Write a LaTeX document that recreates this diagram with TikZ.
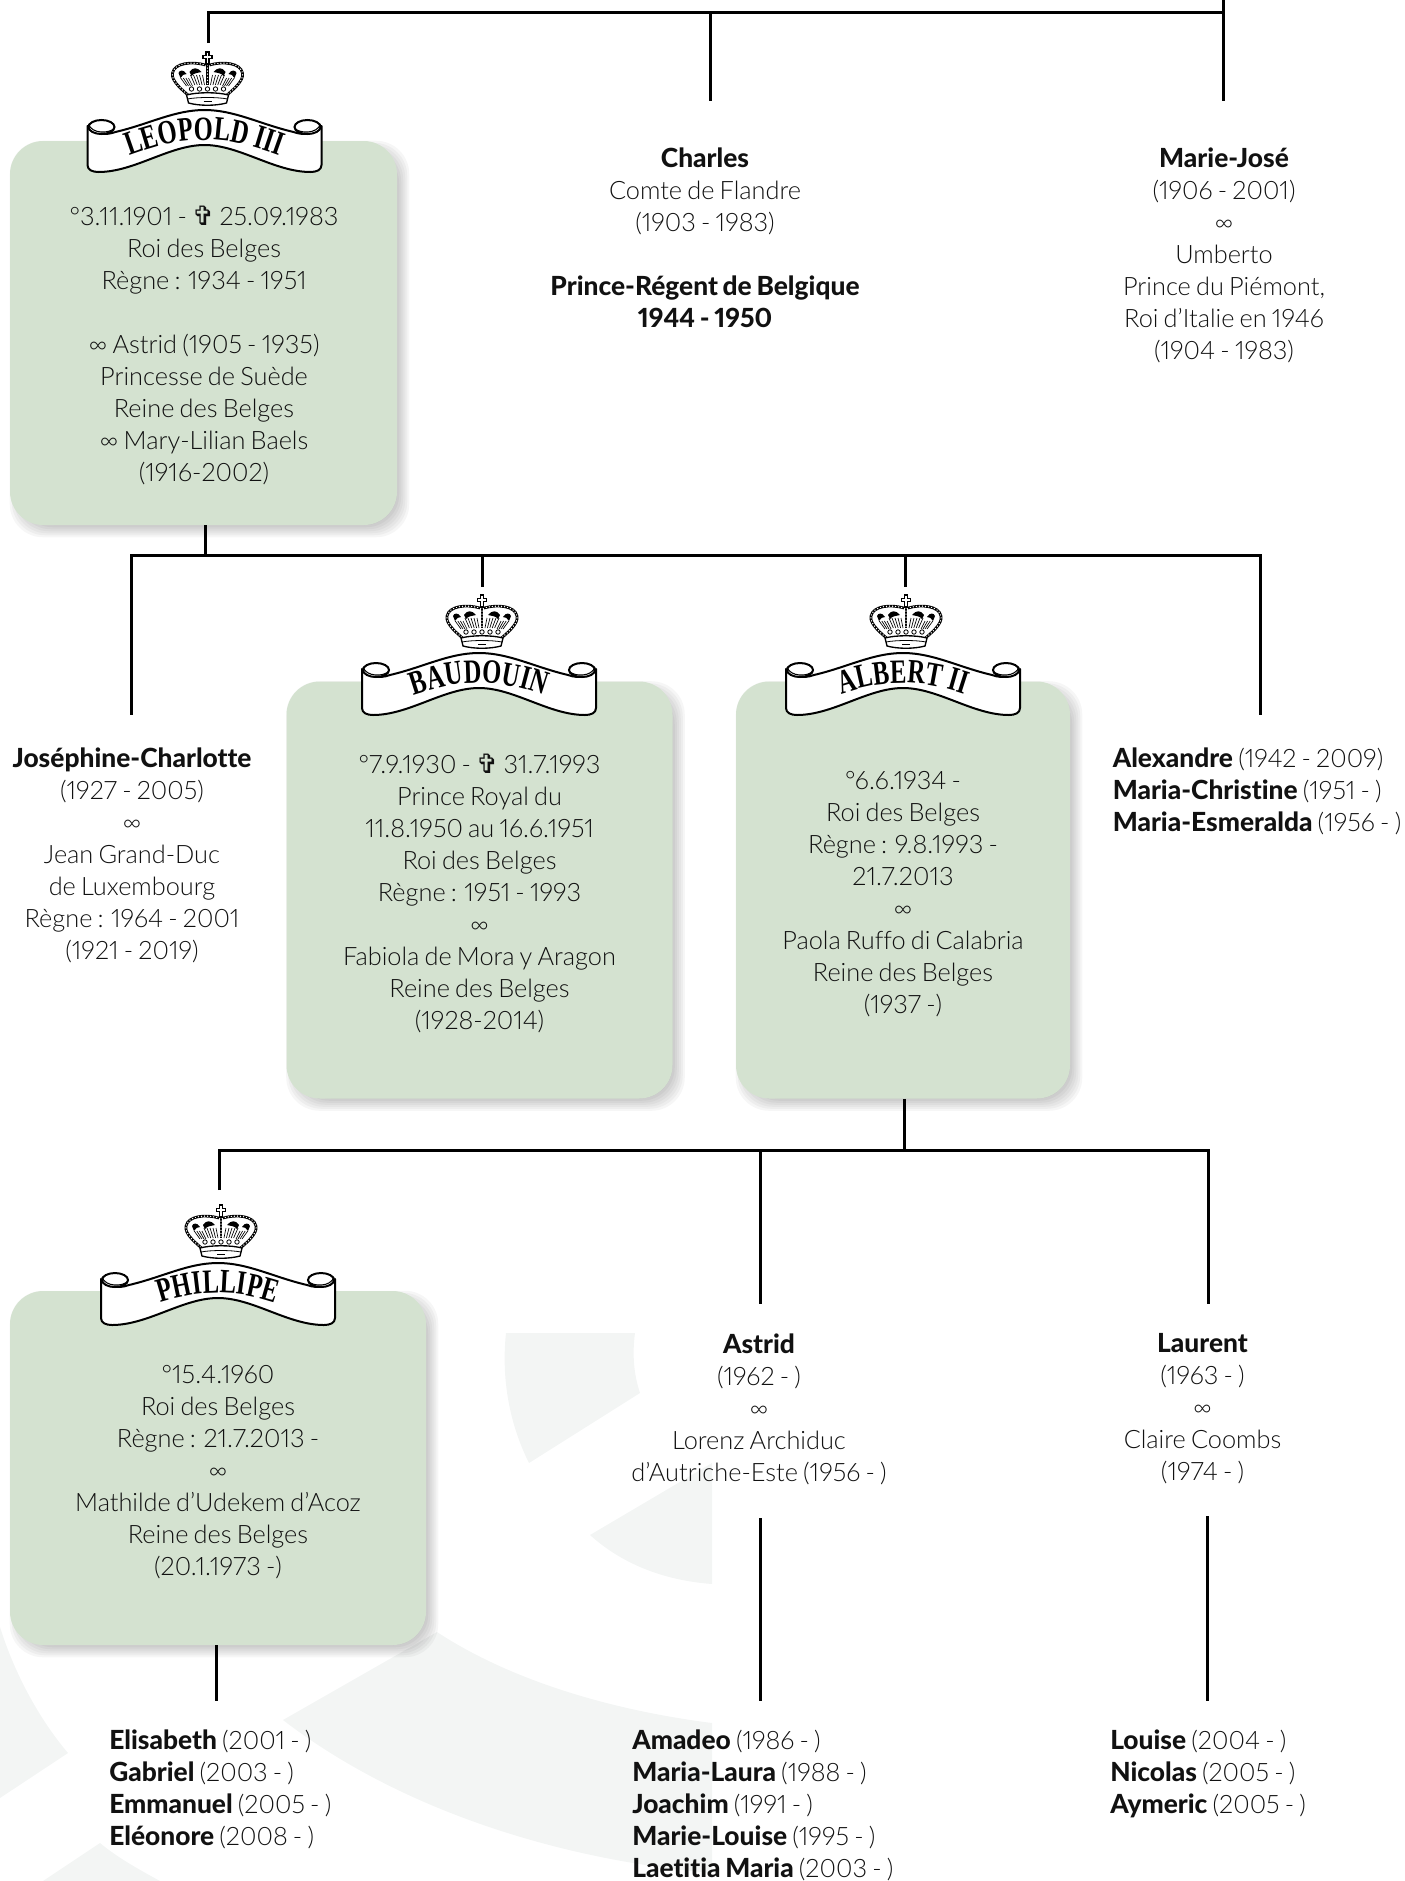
\documentclass[tikz,border=0pt]{standalone}
\usepackage{fontspec}
\setmainfont{Lato}[UprightFont=* Light,BoldFont=* Heavy,BoldFeatures={Scale=1.04},Numbers=Proportional,WordSpace=.75,Ligatures=NoCommon]
\newfontfamily\bannerfont[FakeStretch=.72]{Liberation Serif}
\newfontfamily\symbolfont{DejaVu Sans}
\usepackage{tikz}
\usetikzlibrary{positioning, calc, decorations.text, backgrounds}
\newcommand{\deathmark}{{\symbolfont\fontsize{20}{24}\selectfont ✞}}
\definecolor{boxgreen}{HTML}{D4E2D0}
\definecolor{shade}{HTML}{F3F5F4}
\definecolor{inktext}{HTML}{111111}
\tikzset{
	x=.75pt,
	y=-.75pt,
	link/.style={
		line width=2.25pt
	},
	watermark/.style={
		fill=shade
	},
	kingbox/.style 2 args={
		fill=boxgreen,
		rounded corners=25pt,
		minimum width=#1*.75pt,
		minimum height=#2*.75pt
	},
	boxshadow/.style={
		fill=black,
		fill opacity=.035,
		rounded corners=25pt
	},
	entry/.style={
		anchor=north,
		align=center,
		inner sep=0pt,
		text=inktext,
		font=\fontsize{19}{24}\selectfont,
		execute at begin node=\strut
	},
	siblings/.style={
		entry,
		anchor=north west,
		align=left
	},
	pics/crown/.style={
		code={
			% pearls over a black line
			\foreach \s in {-1,1} {
				\draw[line width=2pt] (\s*16,19) .. controls (\s*24,12) and (\s*37,2) .. (\s*35,-6) .. controls (\s*33,-16) and (\s*16,-18) .. (\s*2,-14);
				\draw[white, line width=1.1pt, line cap=round, dash pattern=on 0pt off 2.3pt] (\s*16,19) .. controls (\s*24,12) and (\s*37,2) .. (\s*35,-6) .. controls (\s*33,-16) and (\s*16,-18) .. (\s*2,-14);
				\fill (\s*21,-5) .. controls (\s*24,-10) and (\s*28,-9) .. (\s*29,-6) -- (\s*27,-1) .. controls (\s*26,-4) and (\s*23,-5) .. (\s*21,-5) -- cycle;
				\fill (\s*6,-7) .. controls (\s*10,-12) and (\s*15,-12) .. (\s*18,-7) -- (\s*16,-3) .. controls (\s*14,-6) and (\s*10,-6) .. (\s*6,-7) -- cycle;
				\foreach \t in {0,...,4} {
					\draw[line width=.5pt] (\s*5+\s*\t*3,-4) -- (\s*3+\s*\t*2.4,6);
				}
				\foreach \t in {0,1,2,3} {
					\draw[line width=.5pt] (\s*19+\s*\t*2.6,-1) -- (\s*15+\s*\t*2,7);
				}
			}
			\draw[line width=2pt] (0,-14) -- (0,6);
			\draw[white, line width=1.1pt, line cap=round, dash pattern=on 0pt off 2.3pt] (0,-14) -- (0,6);
			\draw[line width=.8pt, fill=white] (-1.5,-27) -- (1.5,-27) -- (1.5,-23.5) -- (4.5,-23.5) -- (4.5,-20.5) -- (1.5,-20.5) -- (1.5,-15) -- (-1.5,-15) -- (-1.5,-20.5) -- (-4.5,-20.5) -- (-4.5,-23.5) -- (-1.5,-23.5) -- cycle;
			\foreach \t in {-16,-8,0,8,16} {
				\draw[line width=.6pt] (\t,10) circle [radius=2.2];
			}
			\draw[line width=1pt, fill=white] (-21,16) .. controls (-10,13) and (10,13) .. (21,16) -- (19,24) .. controls (8,27) and (-8,27) .. (-19,24) -- cycle;
			\draw[line width=.6pt] (-20,20) .. controls (-10,18) and (10,18) .. (20,20);
			\draw[line width=.7pt] (-4,22) -- (4,22);
		}
	},
	pics/kingbanner/.style={
		code={
			\pic at (3,-31) {crown};
			\draw[line width=1.5pt, fill=white, line join=round] (-117,16) -- (-117,55) .. controls (-117,60) and (-112,62) .. (-106,62) .. controls (-70,62) and (-35,35) .. (0,35) .. controls (35,35) and (70,62) .. (106,62) .. controls (112,62) and (117,60) .. (117,55) -- (117,16) .. controls (112,24) and (100,26) .. (89,22) .. controls (55,14) and (30,0) .. (0,0) .. controls (-30,0) and (-55,14) .. (-89,22) .. controls (-100,26) and (-112,24) .. (-117,16) -- cycle;
			\foreach \s in {-1,1} {
				\draw[line width=1.5pt, fill=white] (\s*103,17) ellipse [x radius=13, y radius=7];
				\draw[line width=.8pt] (\s*116,14) .. controls (\s*113,24) and (\s*95,24) .. (\s*90,18);
			}
			\path[decorate, decoration={text along path, text align=center, text={|\bannerfont\bfseries\fontsize{25.5}{25.5}\selectfont|#1}}] (-94,53) .. controls (-52,37) and (-30,30) .. (0,30) .. controls (30,30) and (52,37) .. (94,53);
		}
	}
}

\begin{document}
\begin{tikzpicture}
\useasboundingbox (0,0) rectangle (1405,1881);

% ---
% Boxes
% ---
\node[kingbox={387}{384}] (leopold) at (203.5,333) {};
\node[kingbox={386}{417}] (baudouin) at (479.5,890) {};
\node[kingbox={334}{417}] (albert) at (903,890) {};
\node[kingbox={416}{354}] (phillipe) at (218,1468) {};

\begin{scope}[on background layer]
% ---
% Watermark
% ---
\fill[watermark] (506,1333) -- (635,1333) .. controls (632,1355) and (634,1375) .. (640,1393) -- (529,1463) .. controls (510,1425) and (501,1380) .. (506,1333) -- cycle;
\fill[watermark] (712,1463) -- (590,1535) .. controls (620,1562) and (660,1580) .. (712,1584) -- cycle;
\fill[watermark] (437,1632) .. controls (510,1680) and (610,1710) .. (712,1723) -- (712,1873) .. controls (560,1860) and (400,1810) .. (283,1720) -- cycle;
\fill[watermark] (0,1627) .. controls (15,1675) and (40,1720) .. (68,1753) -- (0,1798) -- cycle;
\fill[watermark] (43,1881) -- (100,1843) .. controls (118,1858) and (140,1870) .. (160,1881) -- cycle;

% ---
% Shadows
% ---
\foreach \b in {leopold,baudouin,albert,phillipe} {
	\foreach \g in {-8,-6,...,6} {
		\fill[boxshadow] ($(\b.north west)+(6-\g,6-\g)$) rectangle ($(\b.south east)+(6+\g,6+\g)$);
	}
}
\end{scope}

\pic at (204.5,110) {kingbanner={LEOPOLD III}};
\pic at (479,653) {kingbanner={BAUDOUIN}};
\pic at (903,653) {kingbanner={ALBERT II}};
\pic at (218,1263) {kingbanner={PHILLIPE}};

% ---
% Texts
% ---
\node[entry] (charles) at (705,147.5) {\textbf{Charles}\\Comte de Flandre\\(1903 - 1983)\\[24pt]\textbf{Prince-Régent de Belgique}\\\textbf{1944 - 1950}};
\node[entry] (mariejose) at (1224,147.5) {\textbf{Marie-José}\\(1906 - 2001)\\∞\\Umberto\\Prince du Piémont,\\Roi d’Italie en 1946\\(1904 - 1983)};
\node[entry] (leopold-text) at (204,206) {°3.11.1901 - \deathmark{} 25.09.1983\\Roi des Belges\\Règne : 1934 - 1951\\[24pt]∞ Astrid (1905 - 1935)\\Princesse de Suède\\Reine des Belges\\∞ Mary-Lilian Baels\\(1916-2002)};
\node[entry] (josephine) at (132,748) {\textbf{Joséphine-Charlotte}\\(1927 - 2005)\\∞\\Jean Grand-Duc\\de Luxembourg\\Règne : 1964 - 2001\\(1921 - 2019)};
\node[entry] (baudouin-text) at (479.5,754) {°7.9.1930 - \deathmark{} 31.7.1993\\Prince Royal du\\11.8.1950 au 16.6.1951\\Roi des Belges\\Règne : 1951 - 1993\\∞\\Fabiola de Mora y Aragon\\Reine des Belges\\(1928-2014)};
\node[entry] (albert-text) at (903,770.7) {°6.6.1934 -\\Roi des Belges\\Règne : 9.8.1993 -\\21.7.2013\\∞\\Paola Ruffo di Calabria\\Reine des Belges\\(1937 -)};
\node[siblings] (alexandre) at (1112.5,748) {\textbf{Alexandre} (1942 - 2009)\\\textbf{Maria-Christine} (1951 - )\\\textbf{Maria-Esmeralda} (1956 - )};
\node[entry] (phillipe-text) at (218,1365.3) {°15.4.1960\\Roi des Belges\\Règne : 21.7.2013 -\\∞\\Mathilde d’Udekem d’Acoz\\Reine des Belges\\(20.1.1973 -)};
\node[entry] (astrid) at (759,1333.2) {\textbf{Astrid}\\(1962 - )\\∞\\Lorenz Archiduc\\d’Autriche-Este (1956 - )};
\node[entry] (laurent) at (1202.5,1333.2) {\textbf{Laurent}\\(1963 - )\\∞\\Claire Coombs\\(1974 - )};
\node[siblings] (elisabeth) at (109,1729.8) {\textbf{Elisabeth} (2001 - )\\\textbf{Gabriel} (2003 - )\\\textbf{Emmanuel} (2005 - )\\\textbf{Eléonore} (2008 - )};
\node[siblings] (amadeo) at (632,1729.8) {\textbf{Amadeo} (1986 - )\\\textbf{Maria-Laura} (1988 - )\\\textbf{Joachim} (1991 - )\\\textbf{Marie-Louise} (1995 - )\\\textbf{Laetitia Maria} (2003 - )};
\node[siblings] (louise) at (1110,1729.8) {\textbf{Louise} (2004 - )\\\textbf{Nicolas} (2005 - )\\\textbf{Aymeric} (2005 - )};

% ---
% Links
% ---
\coordinate (roof-charles) at (710,12);
\coordinate (roof-left) at (208,12);
\coordinate (roof-right) at (1223,12);
\coordinate (roof-top) at (1223,0);
\coordinate (end-leopold) at (208,43);
\coordinate (end-charles) at (710,101);
\coordinate (end-mariejose) at (1223,101);
\draw[link] (end-leopold) -- (roof-left) -- (roof-right);
\draw[link] (roof-top) -- (end-mariejose);
\draw[link] (roof-charles) -- (end-charles);

\coordinate (bus-leopold) at (205,555);
\coordinate (bus-left) at (131,555);
\coordinate (bus-right) at (1260,555);
\coordinate (end-josephine) at (131,714.5);
\coordinate (end-alexandre) at (1260,714.5);
\coordinate (bus-baudouin) at (482,555);
\coordinate (end-baudouin) at (482,587);
\coordinate (bus-albert) at (905,555);
\coordinate (end-albert) at (905,587);
\draw[link] (leopold.south -| bus-leopold) -- (bus-leopold);
\draw[link] (end-josephine) -- (bus-left) -- (bus-right) -- (end-alexandre);
\draw[link] (bus-baudouin) -- (end-baudouin);
\draw[link] (bus-albert) -- (end-albert);

\coordinate (rail-albert) at (904,1150);
\coordinate (rail-left) at (219.5,1150);
\coordinate (rail-right) at (1208,1150);
\coordinate (rail-astrid) at (760,1150);
\coordinate (end-phillipe) at (219.5,1190);
\coordinate (end-astrid) at (760,1304);
\coordinate (end-laurent) at (1208,1304);
\draw[link] (albert.south -| rail-albert) -- (rail-albert);
\draw[link] (end-phillipe) -- (rail-left) -- (rail-right) -- (end-laurent);
\draw[link] (rail-astrid) -- (end-astrid);

\coordinate (top-amadeo) at (760.5,1518);
\coordinate (end-amadeo) at (760.5,1700.5);
\coordinate (top-louise) at (1207,1516);
\coordinate (end-louise) at (1207,1700.5);
\coordinate (end-elisabeth) at (216.5,1700.5);
\draw[link] (top-amadeo) -- (end-amadeo);
\draw[link] (top-louise) -- (end-louise);
\draw[link] (phillipe.south -| end-elisabeth) -- (end-elisabeth);
\end{tikzpicture}
\end{document}
